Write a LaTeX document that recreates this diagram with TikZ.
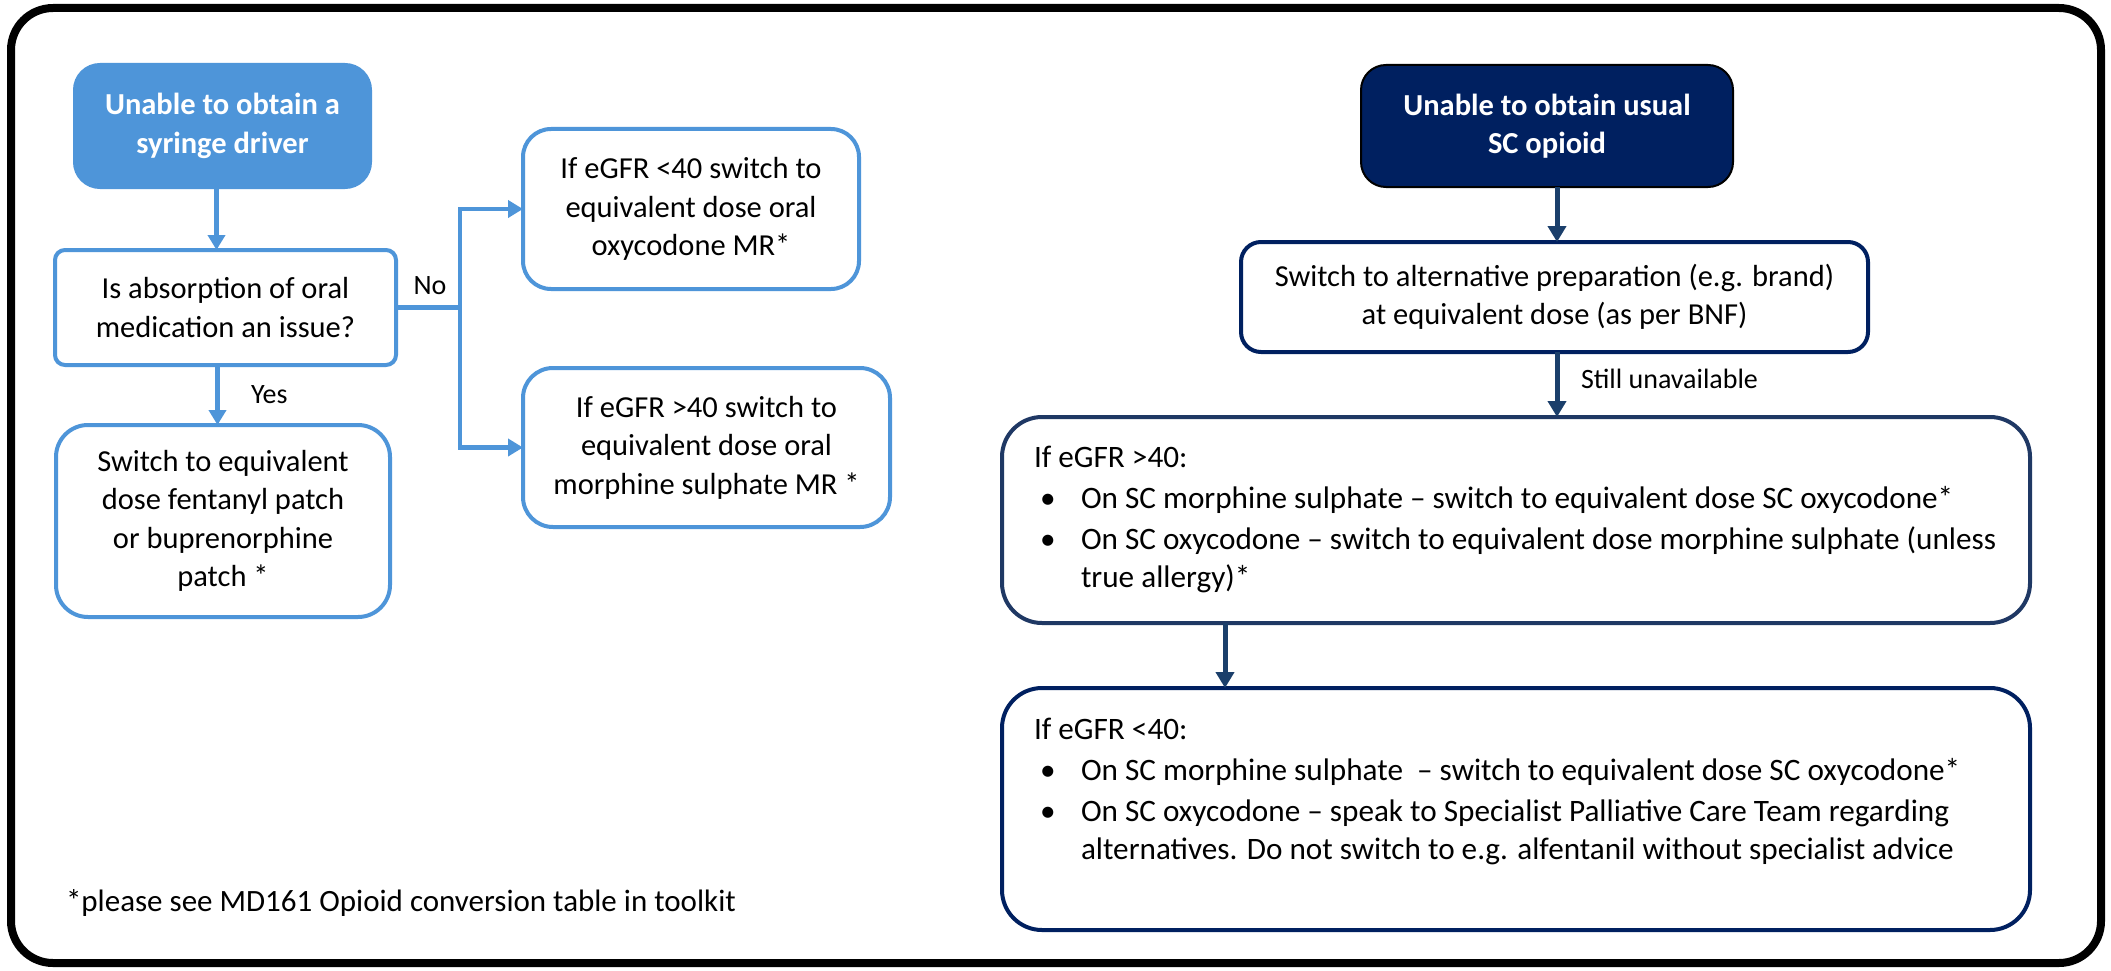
\documentclass[tikz,border=0pt]{standalone}
\usepackage{fontspec}
\setmainfont{Carlito}
\usetikzlibrary{arrows.meta,calc}
\definecolor{lblue}{HTML}{4E95D9}
\definecolor{navy}{HTML}{002060}
\definecolor{navyb}{HTML}{1F3864}
\definecolor{arrc}{HTML}{1B3F6B}
\newcommand\bitem{\par\hangindent=47pt\hangafter=1\noindent\makebox[47pt][l]{\hspace{6pt}\textbullet}}
\begin{document}
\begin{tikzpicture}[x=1pt,y=-1pt,
  every node/.style={inner sep=0pt,outer sep=0pt},
  txt/.style={font=\fontsize{30.5}{38.5}\selectfont,align=center},
  lbl/.style={font=\fontsize{28}{34}\selectfont},
  lbox/.style={draw=lblue,line width=4pt,fill=white,rounded corners=#1,txt},
  lbox/.default=28pt,
  nbox/.style={draw=navy,line width=4pt,fill=white,rounded corners=#1,txt},
  nbox/.default=20pt,
  larr/.style={draw=lblue,line width=4.5pt,-{Triangle[width=17pt,length=15pt]}},
  narr/.style={draw=arrc,line width=5pt,-{Triangle[width=18pt,length=16pt]}},
  conn/.style={draw=lblue,line width=4.5pt},
  btxt/.style={font=\fontsize{31.2}{38}\selectfont,anchor=base west}
]
\useasboundingbox (0,0) rectangle (2111,971);
\fill[white] (0,0) rectangle (2111,971);
\draw[line width=8pt,rounded corners=42pt] (11,8) rectangle (2101,963);

% left flow
\node[lbox=25pt,fill=lblue,text=white,font=\fontsize{30.5}{38.5}\selectfont\bfseries,minimum width=295pt,minimum height=122pt] (b1) at (222.5,126) {Unable to obtain a\\syringe driver};
\node[lbox=10pt,minimum width=341pt,minimum height=115pt] (q) at (225.5,307.5) {Is absorption of oral\\medication an issue?};
\node[lbox=32pt,minimum width=334pt,minimum height=192pt] (yes) at (223,521) {Switch to equivalent\\dose fentanyl patch\\or buprenorphine\\patch *};
\node[lbox=28pt,minimum width=336pt,minimum height=160pt] (lt) at (691,209) {If eGFR <40 switch to\\equivalent dose oral\\oxycodone MR*};
\node[lbox=30pt,minimum width=367pt,minimum height=159pt] (gt) at (706.5,447.5) {If eGFR >40 switch to\\equivalent dose oral\\morphine sulphate MR *};

\draw[larr] ([xshift=-6pt]b1.south) -- ([xshift=-6pt]b1.south |- q.north);
\draw[larr] ([xshift=-8pt]q.south) -- ([xshift=-8pt]q.south |- yes.north);
\coordinate (j) at ($(q.east)+(64,0)$);
\draw[conn] (q.east) -- (j);
\draw[larr] (j) |- (lt.west);
\draw[larr] (j) |- (gt.west);
\node[lbl,anchor=base] (no) at (430,294) {No};
\node[lbl,anchor=base west] (yl) at (251,403) {Yes};

\node[lbl,anchor=base west,font=\fontsize{31}{38}\selectfont] (fn) at (66,911) {*please see MD161 Opioid conversion table in toolkit};

% right flow
\node[draw=black,line width=2pt,fill=navy,rounded corners=25pt,text=white,txt,font=\fontsize{30.5}{38.5}\selectfont\bfseries,minimum width=372pt,minimum height=122pt] (d1) at (1547,126) {Unable to obtain usual\\SC opioid};
\node[nbox=20pt,minimum width=627pt,minimum height=110pt] (b2) at (1554.5,297) {Switch to alternative preparation (e.g. brand)\\at equivalent dose (as per BNF)};
\node[nbox=40pt,draw=navyb,minimum width=1028pt,minimum height=206pt] (b3) at (1516,520) {};
\node[nbox=40pt,minimum width=1028pt,minimum height=242pt] (b4) at (1516,809) {};

\node[btxt] (t3) at ($(b3.north west)+(32,50)$) {\parbox[t]{990pt}{\raggedright\setlength\parskip{3pt}If eGFR >40:\bitem On SC morphine sulphate – switch to equivalent dose SC oxycodone*\bitem On SC oxycodone – switch to equivalent dose morphine sulphate (unless\newline true allergy)*}};
\node[btxt] (t4) at ($(b4.north west)+(32,51)$) {\parbox[t]{990pt}{\raggedright\setlength\parskip{3pt}If eGFR <40:\bitem On SC morphine sulphate \ – switch to equivalent dose SC oxycodone*\bitem On SC oxycodone – speak to Specialist Palliative Care Team regarding\newline alternatives. Do not switch to e.g. alfentanil without specialist advice}};

\draw[narr] ([xshift=2.5pt]b2.north |- d1.south) -- ([xshift=2.5pt]b2.north);
\draw[narr] ([xshift=2.5pt]b2.south) -- ([xshift=2.5pt]b2.south |- b3.north);
\node[lbl,anchor=base west] (su) at (1581,388) {Still unavailable};
\coordinate (a3) at (1225,0);
\draw[narr] (a3 |- b3.south) -- (a3 |- b4.north);
\end{tikzpicture}
\end{document}
